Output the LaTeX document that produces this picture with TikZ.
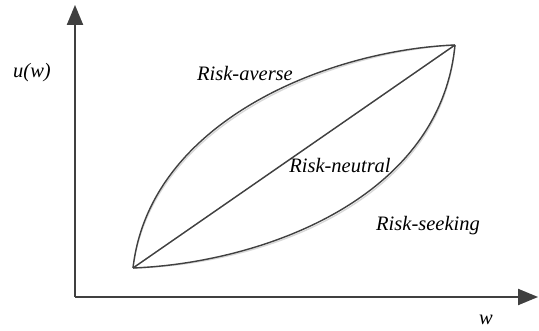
\documentclass[tikz,border=0pt]{standalone}
\usepackage{fontspec}
\setmainfont{Liberation Serif}
\usetikzlibrary{arrows.meta}
\definecolor{ink}{HTML}{404040}
\definecolor{shade}{HTML}{D8D8D8}
\begin{document}
\begin{tikzpicture}[x=1pt,y=-1pt,
  curve/.style={draw=ink,line width=1.4pt},
  shadow/.style={draw=shade,line width=1.4pt},
  axis/.style={draw=ink,line width=2pt,-{Triangle[length=20pt,width=16pt]}},
  axisshadow/.style={draw=shade,line width=2pt,-{Triangle[length=20pt,width=16pt]}},
  lab/.style={font=\fontsize{20.5}{22}\selectfont\itshape,text=black,inner sep=0pt}]
\useasboundingbox (0,0) rectangle (539,331);
\coordinate (O) at (75,297);
\coordinate (Ytip) at (75,5);
\coordinate (Xtip) at (538,297);
\coordinate (A) at (133,268);
\coordinate (B) at (455,45);
% shadows
\begin{scope}[shift={(2,2)}]
\draw[axisshadow] (O) -- (Ytip);
\draw[axisshadow] (O) -- (Xtip);
\draw[shadow] (A) .. controls (150,120) and (330,50) .. (B);
\draw[shadow] (A) .. controls (260,263) and (440,200) .. (B);
\draw[shadow] (A) -- (B);
\end{scope}
% main
\draw[axis] (O) -- (Ytip);
\draw[axis] (O) -- (Xtip);
\draw[curve] (A) .. controls (150,120) and (330,50) .. (B);
\draw[curve] (A) .. controls (260,263) and (440,200) .. (B);
\draw[curve] (A) -- (B);
\node[lab] (uw) at (32,73) {u(w)};
\node[lab] (w) at (486,320) {w};
\node[lab] (ra) at (245,73) {Risk-averse};
\node[lab] (rn) at (340,166) {Risk-neutral};
\node[lab] (rs) at (428,226) {Risk-seeking};
\end{tikzpicture}
\end{document}
